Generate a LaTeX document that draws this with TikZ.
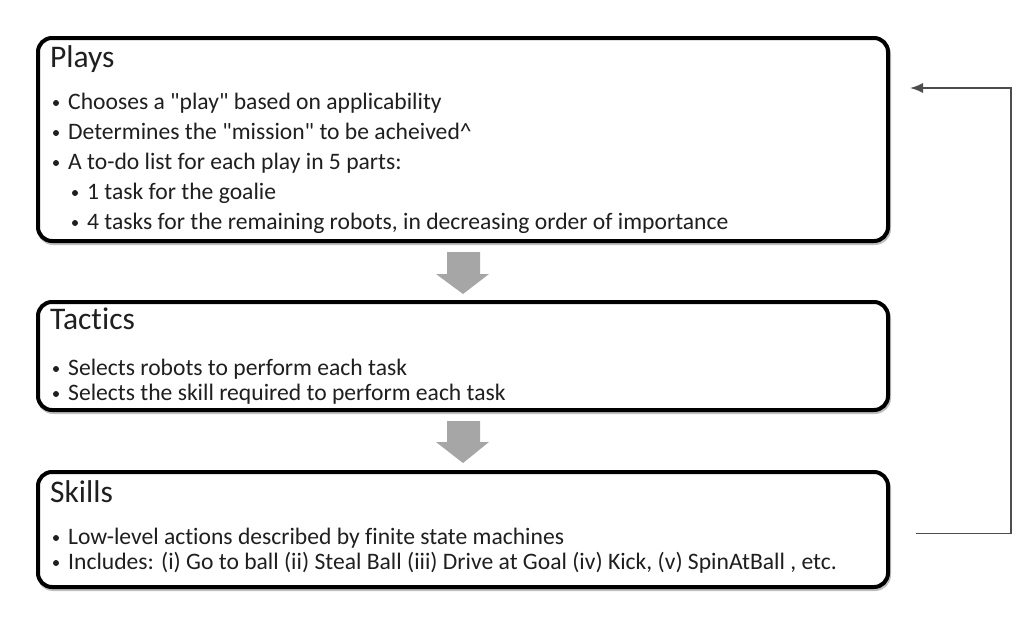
\documentclass[tikz,border=0pt]{standalone}
\usepackage{fontspec}
\newfontfamily\calfont{Carlito}[Ligatures=NoCommon]
\usetikzlibrary{arrows.meta,calc}
\definecolor{txt}{HTML}{1F1F1F}
\definecolor{arrowgray}{HTML}{A6A6A6}
\definecolor{fbline}{HTML}{4D4D4D}
\tikzset{
  stagebox/.style={draw=black, line width=4pt, rounded corners=14pt, fill=white,
    minimum width=850pt, anchor=north west, inner sep=0pt},
  shadowbox/.style={draw=black!25, line width=4pt, rounded corners=14pt},
  title/.style={anchor=base west, inner sep=0pt, text=txt, font=\calfont\fontsize{31.5}{31.5}\selectfont},
  item/.style={anchor=base west, inner sep=0pt, text=txt, font=\calfont\fontsize{23.6}{23.6}\selectfont},
  dot/.style={circle, fill=txt, inner sep=0pt, minimum size=6pt},
  bigarrow/.style={fill=arrowgray, draw=none},
  feedback/.style={draw=fbline, line width=1.5pt, -{Latex[length=13pt,width=10pt]}}
}
\begin{document}
\begin{tikzpicture}[x=1pt,y=-1pt]
\useasboundingbox (0,0) rectangle (1019,621);
% shadows
\draw[shadowbox] (39,40) rectangle (889,243);
\draw[shadowbox] (39,304) rectangle (889,412);
\draw[shadowbox] (39,474) rectangle (889,589);
% boxes
\node[stagebox, minimum height=203pt] (plays) at (36,36) {};
\node[stagebox, minimum height=108pt] (tactics) at (36,300) {};
\node[stagebox, minimum height=115pt] (skills) at (36,470) {};
% Plays text
\node[title] (tplays) at (50,67) {Plays};
\node[dot] (b1) at (56,103) {};
\node[item] (p1) at (68,109) {Chooses a "play" based on applicability};
\node[dot] (b2) at (56,133) {};
\node[item] (p2) at (68,139) {Determines the "mission" to be acheived\^{}};
\node[dot] (b3) at (56,163) {};
\node[item] (p3) at (68,169) {A to-do list for each play in 5 parts:};
\node[dot] (b4) at (75,193) {};
\node[item] (p4) at (87,199) {1 task for the goalie};
\node[dot] (b5) at (75,223) {};
\node[item] (p5) at (87,229) {4 tasks for the remaining robots, in decreasing order of importance};
% Tactics text
\node[title] (ttac) at (50,329) {Tactics};
\node[dot] (b6) at (56,369) {};
\node[item] (t1) at (68,375) {Selects robots to perform each task};
\node[dot] (b7) at (56,394) {};
\node[item] (t2) at (68,400) {Selects the skill required to perform each task};
% Skills text
\node[title] (tsk) at (50,502) {Skills};
\node[dot] (b8) at (56,538) {};
\node[item] (s1) at (68,544) {Low-level actions described by finite state machines};
\node[dot] (b9) at (56,563) {};
\node[item] (s2) at (68,569) {Includes: (i) Go to ball (ii) Steal Ball (iii) Drive at Goal (iv) Kick, (v) SpinAtBall , etc.};
% gray arrows between boxes
\fill[bigarrow] ($(plays.south)+(-16,9)$) -- ++(33,0) -- ++(0,22) -- ++(9,0)
  -- ($(tactics.north)+(0,-6)$) -- ($(plays.south)+(-27,31)$) -- ++(11,0) -- cycle;
\fill[bigarrow] ($(tactics.south)+(-16,9)$) -- ++(33,0) -- ++(0,21) -- ++(9,0)
  -- ($(skills.north)+(0,-7)$) -- ($(tactics.south)+(-27,30)$) -- ++(11,0) -- cycle;
% feedback connector
\coordinate (fbstart) at ($(skills.east)+(26,4)$);
\coordinate (fbend) at ($(plays.north east)+(20,52)$);
\draw[feedback] (fbstart) -- ++(95,0) |- (fbend);
\end{tikzpicture}
\end{document}
